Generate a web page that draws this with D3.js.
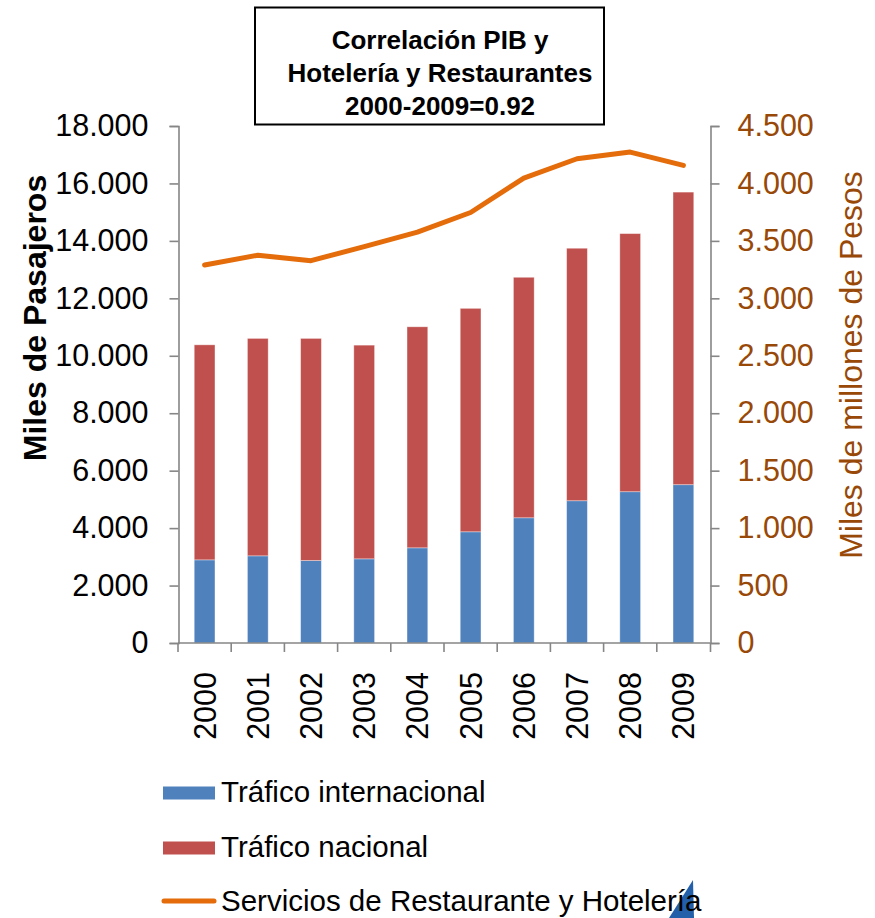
<!DOCTYPE html>
<html><head><meta charset="utf-8">
<script src="https://cdn.jsdelivr.net/npm/d3@7"></script>
<style>
html,body{margin:0;padding:0;background:#fff;}
svg{display:block;font-family:"Liberation Sans",Arial,sans-serif;}
</style></head>
<body>
<svg id="chart" width="875" height="918"></svg>
<script>
const years = ["2000","2001","2002","2003","2004","2005","2006","2007","2008","2009"];
const internacional = [2895, 3035, 2871, 2930, 3314, 3872, 4360, 4953, 5267, 5512];
const totalPasajeros = [10381, 10605, 10605, 10370, 11009, 11651, 12733, 13744, 14253, 15698];
const nacional = totalPasajeros.map((t, i) => t - internacional[i]);
const restHotel = [3290, 3375, 3328, 3450, 3576, 3747, 4047, 4215, 4273, 4157];
const leftTicks = [0, 2000, 4000, 6000, 8000, 10000, 12000, 14000, 16000, 18000];
const rightTicks = [0, 500, 1000, 1500, 2000, 2500, 3000, 3500, 4000, 4500];
const titleLines = ["Correlación PIB y", "Hotelería y Restaurantes", "2000-2009=0.92"];
const seriesNames = ["Tráfico internacional", "Tráfico nacional", "Servicios de Restaurante y Hotelería"];

const C_BLUE = "#4f81bd", C_RED = "#c0504d", C_ORANGE = "#e46c0a", C_BROWN = "#984807", C_AXIS = "#868686";
const svg = d3.select("#chart");
const fmt = v => d3.format(",")(v).replace(/,/g, ".");

const x = d3.scaleBand().domain(years).range([178, 710]).paddingInner(0.61).paddingOuter(0.305);
const yL = d3.scaleLinear().domain([0, 18000]).range([643, 126]);
const yR = d3.scaleLinear().domain([0, 4500]).range([643, 126]);

// Bars
const stackData = years.map((yr, i) => ({year: yr, internacional: internacional[i], nacional: nacional[i]}));
const stack = d3.stack().keys(["internacional", "nacional"])(stackData);
const colors = {internacional: C_BLUE, nacional: C_RED};
svg.append("g").selectAll("g").data(stack).join("g")
  .attr("fill", d => colors[d.key])
  .selectAll("rect").data(d => d).join("rect")
  .attr("x", d => x(d.data.year))
  .attr("width", x.bandwidth())
  .attr("y", d => yL(d[1]))
  .attr("height", d => yL(d[0]) - yL(d[1]))
  .attr("stroke", "rgba(255,255,255,0.45)")
  .attr("stroke-width", 0.8);

// Axes
const styleAxis = g => {
  g.select(".domain").attr("stroke", C_AXIS).attr("stroke-width", 1.6);
  g.selectAll(".tick line").attr("stroke", C_AXIS).attr("stroke-width", 1.6);
};
svg.append("g").attr("transform", "translate(178.5,0)")
  .call(d3.axisLeft(yL).tickValues(leftTicks).tickFormat(fmt).tickSize(9).tickPadding(21).tickSizeOuter(9))
  .call(styleAxis)
  .call(g => g.selectAll(".tick text").attr("font-size", 30.5).attr("fill", "#000").attr("font-family", "Liberation Sans, Arial, sans-serif"));

svg.append("g").attr("transform", "translate(710.5,0)")
  .call(d3.axisRight(yR).tickValues(rightTicks).tickFormat(fmt).tickSize(9).tickPadding(18).tickSizeOuter(9))
  .call(styleAxis)
  .call(g => g.selectAll(".tick text").attr("font-size", 30.5).attr("fill", C_BROWN).attr("font-family", "Liberation Sans, Arial, sans-serif"));

// X axis with ticks at band boundaries
const xAxisG = svg.append("g").attr("transform", "translate(0,643)");
xAxisG.append("line").attr("x1", 178).attr("x2", 710.5).attr("y1", 0).attr("y2", 0)
  .attr("stroke", C_AXIS).attr("stroke-width", 1.6);
const step = x.step();
const boundaries = years.map(yr => x(yr) - (step - x.bandwidth()) / 2).concat([710.5]);
xAxisG.selectAll("line.tk").data(boundaries).join("line").attr("class", "tk")
  .attr("x1", d => d).attr("x2", d => d).attr("y1", 0).attr("y2", 9)
  .attr("stroke", C_AXIS).attr("stroke-width", 1.6);
xAxisG.selectAll("text").data(years).join("text")
  .attr("transform", d => `translate(${x(d) + x.bandwidth() / 2 + 11},29) rotate(-90)`)
  .attr("text-anchor", "end")
  .attr("font-size", 30.5).attr("fill", "#000")
  .text(d => d);

// Line
const line = d3.line().x((d, i) => x(years[i]) + x.bandwidth() / 2).y(d => yR(d));
svg.append("path").datum(restHotel)
  .attr("d", line).attr("fill", "none").attr("stroke", C_ORANGE)
  .attr("stroke-width", 5).attr("stroke-linecap", "round").attr("stroke-linejoin", "round");

// Axis titles
svg.append("text").attr("transform", "translate(46,318) rotate(-90)")
  .attr("text-anchor", "middle").attr("font-size", 32).attr("font-weight", "bold").attr("fill", "#000")
  .text("Miles de Pasajeros");
svg.append("text").attr("transform", "translate(862,365) rotate(-90)")
  .attr("text-anchor", "middle").attr("font-size", 32).attr("fill", C_BROWN)
  .text("Miles de millones de Pesos");

// Title box
svg.append("rect").attr("x", 255).attr("y", 7.5).attr("width", 349).attr("height", 117)
  .attr("fill", "#fff").attr("stroke", "#000").attr("stroke-width", 2);
svg.append("g").selectAll("text").data(titleLines).join("text")
  .attr("x", 440).attr("y", (d, i) => 48.5 + i * 33.3)
  .attr("text-anchor", "middle").attr("font-size", 26).attr("font-weight", "bold").attr("fill", "#000")
  .text(d => d);

// Corner decoration (behind legend text)
svg.append("path").attr("d", "M693,880 L694,918 L669,918 Z").attr("fill", "#2460aa");

// Legend
const lg = svg.append("g");
lg.append("rect").attr("x", 163).attr("y", 786.5).attr("width", 52).attr("height", 13).attr("fill", C_BLUE);
lg.append("rect").attr("x", 163).attr("y", 841.5).attr("width", 52).attr("height", 13).attr("fill", C_RED);
lg.append("line").attr("x1", 164).attr("x2", 214).attr("y1", 901).attr("y2", 901)
  .attr("stroke", C_ORANGE).attr("stroke-width", 5).attr("stroke-linecap", "round");
lg.selectAll("text").data(seriesNames).join("text")
  .attr("x", 221).attr("y", (d, i) => 802 + i * 54.5)
  .attr("font-size", 29.5).attr("fill", "#000")
  .text(d => d);
</script>
</body></html>
